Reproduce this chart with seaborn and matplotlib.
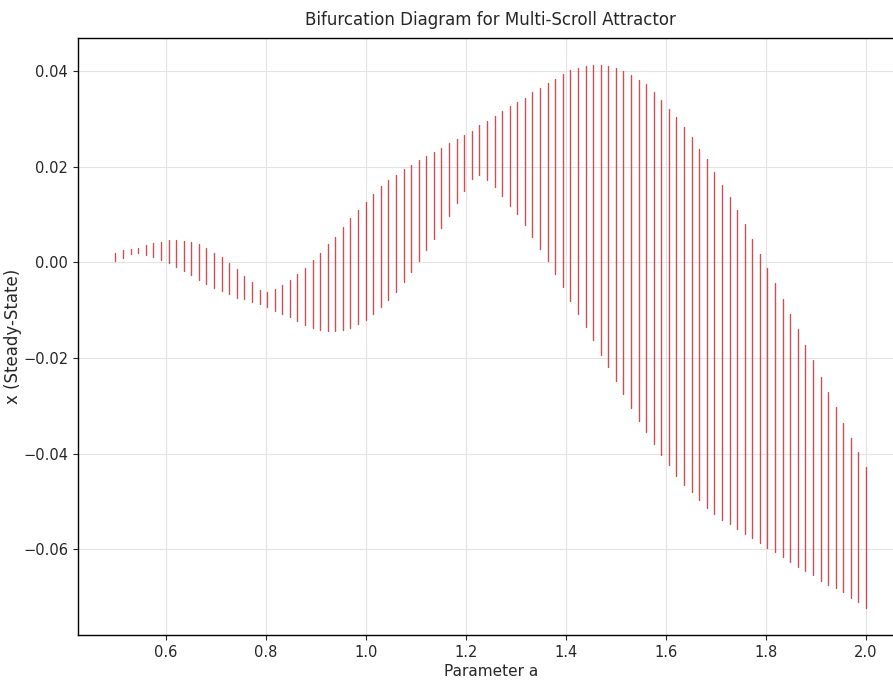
import numpy as np
import pandas as pd
import matplotlib
matplotlib.use("Agg")
import matplotlib.pyplot as plt
import seaborn as sns

# Parameter values (100 steps from 0.5 to 2.0)
a_start = 0.5
a_stop = 2.0
a_count = 100

# Upper edge of the steady-state band for each a
x_max = [
    0.0020, 0.0025, 0.0028, 0.0031, 0.0037, 0.0040, 0.0043, 0.0046, 0.0048, 0.0045,
    0.0043, 0.0038, 0.0031, 0.0020, 0.0011, -0.0001, -0.0013, -0.0029, -0.0041, -0.0057,
    -0.0062, -0.0055, -0.0047, -0.0036, -0.0024, -0.0011, 0.0006, 0.0019, 0.0038, 0.0054,
    0.0074, 0.0092, 0.0109, 0.0126, 0.0144, 0.0159, 0.0173, 0.0184, 0.0196, 0.0205,
    0.0214, 0.0222, 0.0232, 0.0240, 0.0250, 0.0259, 0.0267, 0.0276, 0.0287, 0.0296,
    0.0306, 0.0316, 0.0327, 0.0336, 0.0345, 0.0356, 0.0365, 0.0375, 0.0385, 0.0394,
    0.0402, 0.0408, 0.0412, 0.0413, 0.0413, 0.0411, 0.0407, 0.0400, 0.0393, 0.0382,
    0.0373, 0.0357, 0.0341, 0.0322, 0.0304, 0.0283, 0.0262, 0.0238, 0.0217, 0.0189,
    0.0163, 0.0137, 0.0109, 0.0080, 0.0050, 0.0018, -0.0012, -0.0043, -0.0076, -0.0107,
    -0.0140, -0.0172, -0.0205, -0.0239, -0.0272, -0.0303, -0.0336, -0.0367, -0.0397, -0.0429,
]

# Lower edge of the band
x_min = [
    0.0004, 0.0010, 0.0017, 0.0019, 0.0016, 0.0011, 0.0006, -0.0001, -0.0010, -0.0017,
    -0.0027, -0.0036, -0.0045, -0.0054, -0.0060, -0.0066, -0.0074, -0.0077, -0.0083, -0.0088,
    -0.0094, -0.0102, -0.0107, -0.0115, -0.0123, -0.0130, -0.0137, -0.0142, -0.0144, -0.0144,
    -0.0142, -0.0137, -0.0128, -0.0120, -0.0107, -0.0094, -0.0078, -0.0062, -0.0041, -0.0020,
    0.0003, 0.0027, 0.0050, 0.0073, 0.0098, 0.0124, 0.0149, 0.0174, 0.0184, 0.0172,
    0.0157, 0.0139, 0.0119, 0.0101, 0.0079, 0.0054, 0.0029, 0.0003, -0.0024, -0.0052,
    -0.0080, -0.0107, -0.0135, -0.0163, -0.0193, -0.0219, -0.0249, -0.0275, -0.0304, -0.0331,
    -0.0355, -0.0380, -0.0402, -0.0425, -0.0446, -0.0465, -0.0481, -0.0498, -0.0514, -0.0526,
    -0.0539, -0.0547, -0.0558, -0.0568, -0.0577, -0.0588, -0.0597, -0.0607, -0.0617, -0.0628,
    -0.0637, -0.0646, -0.0655, -0.0666, -0.0675, -0.0681, -0.0690, -0.0702, -0.0711, -0.0723,
]

a_values = np.linspace(a_start, a_stop, a_count)

# Long table: two rows (low / high) per parameter value
df = pd.DataFrame({
    "a": np.concatenate([a_values, a_values]),
    "x": np.concatenate([x_min, x_max]),
    "unit": np.concatenate([np.arange(a_count), np.arange(a_count)]),
})

# Style
sns.set_style("ticks", {"axes.grid": True, "grid.color": "#e3e3e3",
                        "axes.edgecolor": "black"})
plt.rcParams["font.family"] = ["Liberation Sans Narrow", "DejaVu Sans"]

fig = plt.figure(figsize=(8.93, 6.82), dpi=100)
ax = fig.add_axes([0.0873, 0.0689, 0.9245, 0.8754])

sns.lineplot(data=df, x="a", y="x", units="unit", estimator=None,
             color="#c4303a", linewidth=1.0, alpha=0.85, ax=ax, legend=False)

ax.margins(x=0.05, y=0.05)
ax.set_title("Bifurcation Diagram for Multi-Scroll Attractor", fontsize=12, pad=9)
ax.set_xlabel("Parameter a", fontsize=11, labelpad=3)
ax.set_ylabel("x (Steady-State)", fontsize=12, family="DejaVu Sans", labelpad=1)
ax.tick_params(labelsize=10.5)
for spine in ax.spines.values():
    spine.set_linewidth(1.0)

plt.savefig("out.png", dpi=100)
